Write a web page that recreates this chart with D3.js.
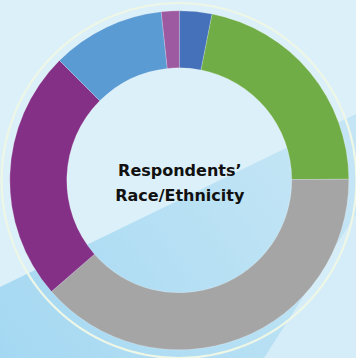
<!DOCTYPE html>
<html>
<head>
<meta charset="utf-8">
<script src="https://cdn.jsdelivr.net/npm/d3@7/dist/d3.min.js"></script>
<style>
  html, body { margin: 0; padding: 0; background: #dcf0f9; }
  svg { display: block; }
</style>
</head>
<body>
<svg id="chart" width="356" height="358"></svg>
<script>
// Data (percent shares, clockwise from 12 o'clock)
const categories = ["Asian", "Hispanic/Latino", "White", "Black/African American", "Multiracial", "Other"];
const values = [3.1, 21.8, 38.7, 23.9, 10.8, 1.7];
const colors = ["#4471b9", "#71ad47", "#a5a5a5", "#843086", "#5b9bd4", "#9e5aa0"];
const titleLines = ["Respondents\u2019", "Race/Ethnicity"];

const W = 356, H = 358;
const cx = 179.3, cy = 180.3, rOuter = 169.5, rInner = 112.5;

const svg = d3.select("#chart");
const defs = svg.append("defs");
const grad = defs.append("linearGradient")
  .attr("id", "band").attr("gradientUnits", "userSpaceOnUse")
  .attr("x1", 0).attr("y1", 358).attr("x2", 300).attr("y2", 150);
grad.append("stop").attr("offset", "0").attr("stop-color", "#a4d8f2");
grad.append("stop").attr("offset", "1").attr("stop-color", "#c3e5f5");

// Background
svg.append("rect").attr("width", W).attr("height", H).attr("fill", "#dcf0f9");
svg.append("polygon")
  .attr("points", [[0, 287], [356, 114], [356, 358], [0, 358]].map(p => p.join(",")).join(" "))
  .attr("fill", "url(#band)");
svg.append("polygon")
  .attr("points", [[264, 358], [356, 214], [356, 358]].map(p => p.join(",")).join(" "))
  .attr("fill", "#d5edf8");

// Decorative outer ring
svg.append("circle")
  .attr("cx", 179).attr("cy", 180.5).attr("r", 177.5)
  .attr("fill", "none").attr("stroke", "#eef6e6").attr("stroke-width", 2.2);

const g = svg.append("g").attr("transform", `translate(${cx},${cy})`);

const pie = d3.pie().sort(null).value(d => d.v).startAngle(0).endAngle(2 * Math.PI);
const arc = d3.arc().innerRadius(rInner).outerRadius(rOuter);
const data = categories.map((c, i) => ({ c, v: values[i], color: colors[i] }));

g.selectAll("path")
  .data(pie(data))
  .join("path")
  .attr("d", arc)
  .attr("fill", d => d.data.color)
  .attr("stroke", "rgba(255,255,255,0.35)")
  .attr("stroke-width", 0.6);

// Center title
const t = g.append("text")
  .attr("text-anchor", "middle")
  .attr("font-family", "'DejaVu Sans', sans-serif")
  .attr("font-weight", "bold")
  .attr("font-size", 16)
  .attr("fill", "#111");
titleLines.forEach((line, i) => {
  t.append("tspan").attr("x", 0.5).attr("y", -4.5 + i * 25).text(line);
});
</script>
</body>
</html>
